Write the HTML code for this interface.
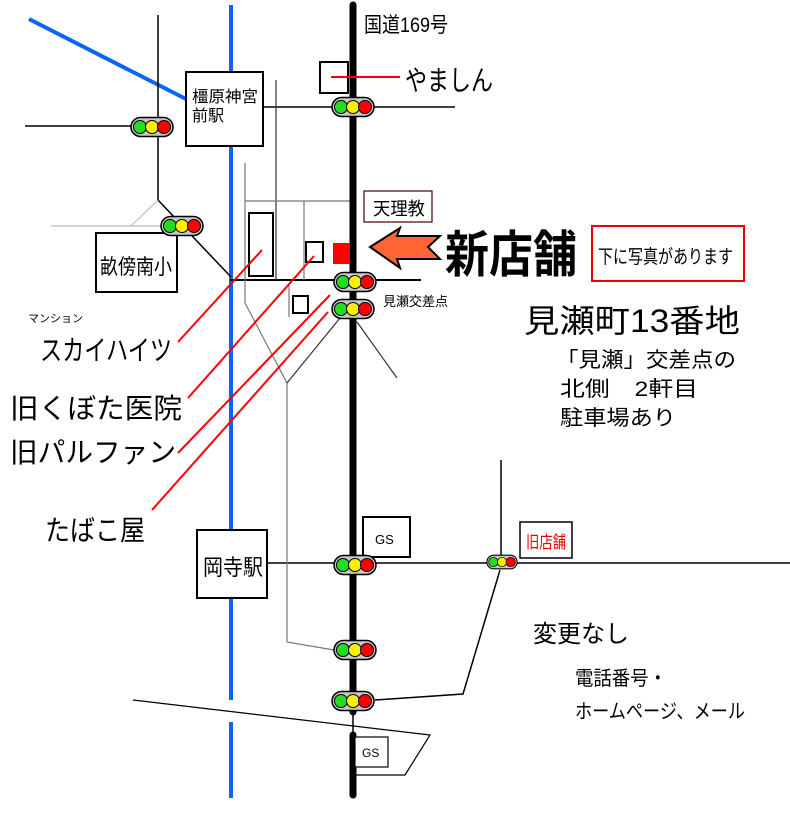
<!DOCTYPE html>
<html><head><meta charset="utf-8"><style>
body{margin:0;background:#fff}
svg{display:block}
text{font-family:"Liberation Sans","Noto Sans CJK JP",sans-serif}
</style></head><body>
<svg width="790" height="814" viewBox="0 0 790 814" xmlns="http://www.w3.org/2000/svg">
<defs>
<g id="tl">
<rect x="-21" y="-9.5" width="42" height="19" rx="9.5" fill="#c8c8c8" stroke="#000" stroke-width="1.5"/>
<circle cx="-12" cy="0" r="6.5" fill="#22dd22" stroke="#000"/>
<circle cx="0" cy="0" r="6.5" fill="#ffee00" stroke="#000"/>
<circle cx="12" cy="0" r="6.5" fill="#ff0000" stroke="#000"/>
</g>
</defs>
<line x1="29" y1="19" x2="186" y2="99" stroke="#0a66f0" stroke-width="4"/>
<line x1="231" y1="5" x2="231" y2="700" stroke="#0a66f0" stroke-width="4"/>
<line x1="231" y1="722" x2="231" y2="798" stroke="#0a66f0" stroke-width="4"/>
<g stroke="#000" stroke-width="1.5" fill="none">
<line x1="158" y1="15" x2="158" y2="200"/>
<line x1="25" y1="126" x2="135" y2="126"/>
<polyline points="158,200 231,277"/>
<line x1="263" y1="107" x2="455" y2="107"/>
<line x1="230" y1="280" x2="421" y2="280" stroke-width="2"/>
<line x1="267" y1="563" x2="790" y2="563"/>
<line x1="501" y1="460" x2="501" y2="555"/>
<polyline points="500,570 463,694 375,700"/>
</g>
<g stroke="#777" stroke-width="1.2" fill="none">
<line x1="276" y1="80" x2="276" y2="280" stroke="#333"/>
<line x1="51" y1="226" x2="165" y2="226" stroke="#bbb"/>
<line x1="158" y1="200" x2="131" y2="226" stroke="#bbb"/>
<line x1="245" y1="201" x2="350" y2="201"/>
<line x1="304" y1="201" x2="304" y2="280"/>
<polyline points="245,163 245,303 287,383 287,642 334,650"/>
<line x1="289" y1="283" x2="289" y2="317"/>
<line x1="340" y1="318" x2="287" y2="383" stroke="#333"/>
<line x1="357" y1="322" x2="397" y2="378" stroke="#333"/>
<polyline points="133,700 430,735 405,775 355,775" stroke="#000"/>
</g>
<line x1="353" y1="5" x2="353" y2="712" stroke="#000" stroke-width="7" stroke-linecap="round"/>
<line x1="353" y1="712" x2="353" y2="735" stroke="#000" stroke-width="1.5"/>
<line x1="353" y1="735" x2="353" y2="795" stroke="#000" stroke-width="7" stroke-linecap="round"/>
<g fill="#fff" stroke="#000" stroke-width="2">
<rect x="186" y="72" width="77" height="74"/>
<rect x="96" y="233" width="81" height="59"/>
<rect x="249" y="213" width="24" height="63"/>
<rect x="306" y="242" width="17" height="20"/>
<rect x="293" y="296" width="15" height="17"/>
<rect x="320" y="62" width="28" height="31"/>
<rect x="197" y="530" width="70" height="68"/>
<rect x="363" y="517" width="47" height="40"/>
<rect x="355" y="737" width="33" height="30" stroke-width="1.2"/>
</g>
<rect x="364" y="191" width="68" height="31" fill="#fff" stroke="#400" stroke-width="1.2"/>
<rect x="520" y="522" width="52" height="36" fill="#fff" stroke="#000" stroke-width="1.5"/>
<rect x="592" y="226" width="152" height="55" fill="#fff" stroke="#e00" stroke-width="2"/>
<rect x="333" y="243" width="17" height="21" fill="#f00"/>
<g stroke="#f00" stroke-width="2">
<line x1="331" y1="77" x2="400" y2="77"/>
<line x1="262" y1="250" x2="178" y2="342"/>
<line x1="314" y1="256" x2="188" y2="398"/>
<line x1="330" y1="295" x2="178" y2="453"/>
<line x1="328" y1="312" x2="152" y2="510"/>
</g>
<polygon points="370,247 400,228 397,236 440,236 428,247 440,259 397,259 400,268" fill="#ff6633" stroke="#000" stroke-width="2"/>
<use href="#tl" x="353" y="107"/>
<use href="#tl" x="152" y="127"/>
<use href="#tl" x="182" y="226"/>
<use href="#tl" x="355" y="282"/>
<use href="#tl" x="353" y="309"/>
<use href="#tl" x="355" y="565"/>
<g transform="translate(502,562) scale(0.72)"><use href="#tl"/></g>
<use href="#tl" x="355" y="650"/>
<use href="#tl" x="353" y="701"/>
<text x="364" y="32" font-size="21" textLength="84" lengthAdjust="spacingAndGlyphs">国道169号</text>
<text x="405" y="90" font-size="28" textLength="88" lengthAdjust="spacingAndGlyphs">やましん</text>
<text x="192" y="102" font-size="16" textLength="66" lengthAdjust="spacingAndGlyphs">橿原神宮</text>
<text x="192" y="121" font-size="16">前駅</text>
<text x="100" y="274" font-size="21" textLength="72" lengthAdjust="spacingAndGlyphs">畝傍南小</text>
<text x="373" y="215" font-size="18" textLength="52" lengthAdjust="spacingAndGlyphs">天理教</text>
<text x="445" y="272" font-size="50" font-weight="bold" textLength="132" lengthAdjust="spacingAndGlyphs">新店舗</text>
<text x="598" y="263" font-size="19" textLength="135" lengthAdjust="spacingAndGlyphs">下に写真があります</text>
<text x="383" y="306" font-size="13">見瀬交差点</text>
<text x="524" y="332" font-size="32" textLength="216" lengthAdjust="spacingAndGlyphs">見瀬町13番地</text>
<text x="556" y="367" font-size="21" textLength="180" lengthAdjust="spacingAndGlyphs">「見瀬」交差点の</text>
<text x="560" y="396" font-size="21" textLength="138" lengthAdjust="spacingAndGlyphs">北側　2軒目</text>
<text x="560" y="425" font-size="21" textLength="116" lengthAdjust="spacingAndGlyphs">駐車場あり</text>
<text x="28" y="322" font-size="11">マンション</text>
<text x="40" y="360" font-size="28" textLength="132" lengthAdjust="spacingAndGlyphs">スカイハイツ</text>
<text x="10" y="418" font-size="28" textLength="172" lengthAdjust="spacingAndGlyphs">旧くぼた医院</text>
<text x="10" y="462" font-size="28" textLength="166" lengthAdjust="spacingAndGlyphs">旧パルファン</text>
<text x="45" y="540" font-size="28" textLength="100" lengthAdjust="spacingAndGlyphs">たばこ屋</text>
<text x="203" y="575" font-size="22" textLength="60" lengthAdjust="spacingAndGlyphs">岡寺駅</text>
<text x="375" y="544" font-size="13">GS</text>
<text x="362" y="757" font-size="12">GS</text>
<text x="526" y="548" font-size="17" fill="#e00" textLength="40" lengthAdjust="spacingAndGlyphs">旧店舗</text>
<text x="533" y="642" font-size="24" textLength="96" lengthAdjust="spacingAndGlyphs">変更なし</text>
<text x="575" y="685" font-size="20" textLength="92" lengthAdjust="spacingAndGlyphs">電話番号・</text>
<text x="575" y="718" font-size="20" textLength="170" lengthAdjust="spacingAndGlyphs">ホームページ、メール</text>
</svg>
</body></html>
